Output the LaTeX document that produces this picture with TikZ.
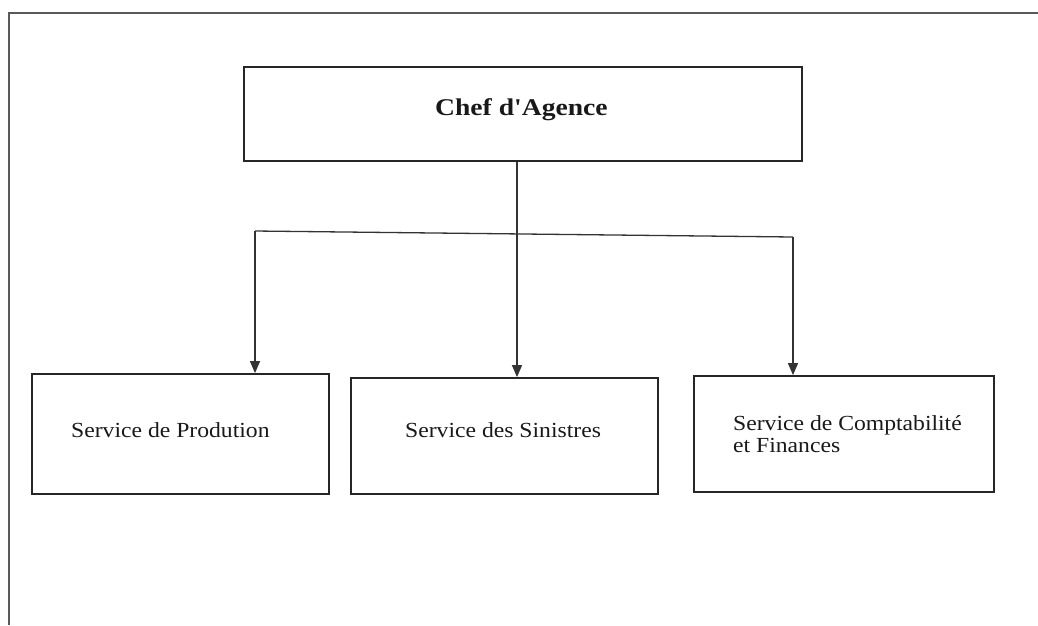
\documentclass[tikz,border=0pt]{standalone}
\usepackage{fontspec}
\setmainfont{Liberation Serif}
\newfontfamily\rawserif{Liberation Serif}
\usetikzlibrary{arrows.meta}
\tikzset{
  box/.style={draw=black!85, line width=1.8pt, rectangle, inner sep=0pt},
  conn/.style={draw=black!80, line width=1.3pt},
  arr/.style={conn, -{Triangle[length=12pt,width=10pt]}},
  lbl/.style={anchor=base west, inner sep=0pt, text=black!90},
  frame/.style={draw=black!65, line width=2.6pt}
}
\newcommand{\svtext}[1]{\scalebox{1.1}[1]{\fontsize{21.5}{22}\selectfont #1}}
\begin{document}
\begin{tikzpicture}[x=1pt,y=-1pt]
\useasboundingbox (0,0) rectangle (1038,625);
% outer frame (top and left edges)
\coordinate (fa) at (9,625);
\coordinate (fb) at (9,13);
\coordinate (fc) at (1038,13);
\draw[frame] (fa) -- (fb) -- (fc);
% boxes
\node[box, minimum width=558pt, minimum height=94pt] (top) at (523,114) {};
\node[box, minimum width=297pt, minimum height=120pt] (lbox) at (180.5,434) {};
\node[box, minimum width=307pt, minimum height=116pt] (mbox) at (504.5,436) {};
\node[box, minimum width=300pt, minimum height=116pt] (rbox) at (844,434) {};
% texts
\node[lbl] (ttop) at (435,115) {\scalebox{1.15}[1]{\rawserif\fontsize{24}{26}\selectfont\bfseries Chef d'Agence}};
\node[lbl] (tl) at (71,437) {\svtext{Service de Prodution}};
\node[lbl] (tm) at (405,437) {\svtext{Service des Sinistres}};
\node[lbl] (tr1) at (733,430) {\svtext{Service de Comptabilité}};
\node[lbl] (tr2) at (733,452) {\svtext{et Finances}};
% connectors
\coordinate (jl) at (255,231);
\coordinate (jm) at (517,234);
\coordinate (jr) at (793,237);
\draw[conn] (jl) -- (jr);
\draw[arr] (jl) -- (jl |- lbox.north);
\draw[arr] (top.south -| jm) -- (jm |- mbox.north);
\draw[arr] (jr) -- (jr |- rbox.north);
\end{tikzpicture}
\end{document}
